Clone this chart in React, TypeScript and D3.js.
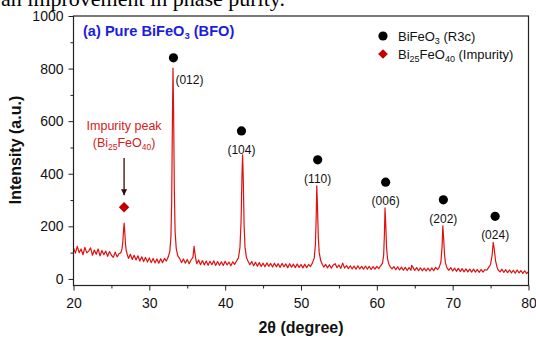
import React, { useRef, useEffect } from 'react';
import * as d3 from 'd3';

// XRD scan: [2θ, intensity]
const pattern: [number, number][] = [
  [20.0, 118], [20.25, 98], [20.5, 124], [20.75, 100], [21.0, 114], [21.25, 92], [21.5, 120], [21.75, 99],
  [22.0, 106], [22.25, 118], [22.5, 90], [22.75, 110], [23.0, 94], [23.25, 114], [23.5, 88], [23.75, 108],
  [24.0, 92], [24.25, 106], [24.5, 86], [24.75, 104], [25.0, 90], [25.25, 82], [25.5, 102], [25.75, 84],
  [26.0, 96], [26.25, 100], [26.4, 115], [26.5, 140], [26.6, 185], [26.68, 212], [26.76, 180], [26.85, 135],
  [26.95, 108], [27.1, 92], [27.25, 78], [27.5, 94], [27.75, 74], [28.0, 90], [28.25, 72], [28.5, 88],
  [28.75, 68], [29.0, 84], [29.25, 66], [29.5, 82], [29.75, 64], [30.0, 80], [30.25, 62], [30.5, 78],
  [30.75, 61], [31.0, 76], [31.25, 60], [31.5, 77], [31.75, 62], [32.0, 78], [32.25, 68], [32.5, 84],
  [32.7, 105], [32.85, 160], [32.95, 300], [33.05, 620], [33.12, 802], [33.2, 640], [33.3, 330], [33.4, 180],
  [33.55, 115], [33.75, 88], [34.0, 78], [34.25, 62], [34.5, 76], [34.75, 60], [35.0, 74], [35.25, 58],
  [35.5, 72], [35.75, 82], [35.9, 124], [36.0, 100], [36.15, 72], [36.25, 58], [36.5, 72], [36.75, 54],
  [37.0, 70], [37.25, 53], [37.5, 68], [37.75, 52], [38.0, 67], [38.25, 54], [38.5, 69], [38.75, 51],
  [39.0, 66], [39.25, 52], [39.5, 65], [39.75, 51], [40.0, 67], [40.25, 53], [40.5, 64], [40.75, 50],
  [41.0, 65], [41.25, 55], [41.5, 68], [41.75, 80], [41.95, 120], [42.1, 220], [42.22, 400], [42.3, 472],
  [42.38, 390], [42.5, 200], [42.62, 120], [42.8, 82], [43.0, 68], [43.25, 54], [43.5, 66], [43.75, 50],
  [44.0, 63], [44.25, 48], [44.5, 62], [44.75, 47], [45.0, 60], [45.25, 46], [45.5, 61], [45.75, 48],
  [46.0, 59], [46.25, 45], [46.5, 60], [46.75, 46], [47.0, 58], [47.25, 44], [47.5, 59], [47.75, 46],
  [48.0, 57], [48.25, 43], [48.5, 58], [48.75, 45], [49.0, 56], [49.25, 43], [49.5, 57], [49.75, 44],
  [50.0, 55], [50.25, 42], [50.5, 56], [50.75, 43], [51.0, 55], [51.25, 47], [51.5, 60], [51.75, 80],
  [51.9, 130], [52.0, 230], [52.08, 354], [52.16, 290], [52.28, 160], [52.4, 100], [52.6, 70], [52.8, 56],
  [53.0, 45], [53.25, 55], [53.5, 42], [53.75, 54], [54.0, 41], [54.25, 53], [54.5, 58], [54.75, 43],
  [55.0, 53], [55.25, 40], [55.5, 60], [55.75, 41], [56.0, 51], [56.25, 39], [56.5, 50], [56.75, 38],
  [57.0, 49], [57.25, 37], [57.5, 50], [57.75, 38], [58.0, 48], [58.25, 37], [58.5, 49], [58.75, 37],
  [59.0, 48], [59.25, 36], [59.5, 47], [59.75, 37], [60.0, 48], [60.25, 39], [60.5, 50], [60.75, 60],
  [60.9, 90], [61.0, 170], [61.08, 270], [61.16, 220], [61.28, 120], [61.42, 75], [61.6, 55], [61.8, 45],
  [62.0, 38], [62.25, 47], [62.5, 35], [62.75, 46], [63.0, 34], [63.25, 45], [63.5, 33], [63.75, 44],
  [64.0, 32], [64.25, 43], [64.5, 33], [64.6, 52], [64.75, 45], [65.0, 32], [65.25, 43], [65.5, 31],
  [65.75, 42], [66.0, 31], [66.25, 41], [66.5, 30], [66.75, 41], [67.0, 30], [67.25, 42], [67.5, 31],
  [67.75, 44], [68.0, 35], [68.25, 46], [68.45, 65], [68.6, 120], [68.7, 202], [68.8, 160], [68.92, 95],
  [69.05, 60], [69.25, 42], [69.5, 33], [69.75, 43], [70.0, 30], [70.25, 41], [70.5, 29], [70.75, 40],
  [71.0, 28], [71.25, 39], [71.5, 27], [71.75, 38], [72.0, 27], [72.25, 37], [72.5, 26], [72.75, 37],
  [73.0, 26], [73.25, 36], [73.5, 25], [73.75, 36], [74.0, 26], [74.25, 35], [74.5, 33], [74.75, 44],
  [75.0, 55], [75.2, 90], [75.35, 139], [75.5, 110], [75.65, 70], [75.85, 45], [76.0, 34], [76.25, 27],
  [76.5, 37], [76.75, 25], [77.0, 35], [77.25, 24], [77.5, 34], [77.75, 23], [78.0, 33], [78.25, 22],
  [78.5, 34], [78.75, 23], [79.0, 32], [79.25, 21], [79.5, 31], [79.75, 20], [80.0, 28],
];

// BiFeO3 reflections
const peakLabels = ['(012)', '(104)', '(110)', '(006)', '(202)', '(024)'];
const peakAngles = [33.18, 42.15, 52.2, 61.16, 68.77, 75.6];
const peakMarkers = [841, 563, 453, 368, 301, 238];

// Bi25FeO40 impurity
const impurityAngle = 26.67;
const impurityMarker = 273;
const impurityArrow = [460, 318];

const xTicks = [20, 30, 40, 50, 60, 70, 80];
const yTicks = [0, 200, 400, 600, 800, 1000];

export default function App() {
  const svgRef = useRef<SVGSVGElement>(null);

  useEffect(() => {
    const svg = d3.select(svgRef.current);
    svg.selectAll('*').remove();

    const w = 536;
    const h = 339;
    const margin = { top: 16, right: 7.5, bottom: 53.5, left: 73.5 };
    const innerWidth = w - margin.left - margin.right;
    const innerHeight = h - margin.top - margin.bottom;
    const font = 'Arial, "Liberation Sans", sans-serif';
    const trace = '#e01010';

    // leftover sentence from the page above the figure
    svg.append('text')
      .attr('x', 1)
      .attr('y', 6)
      .attr('font-family', '"Liberation Serif", "Times New Roman", serif')
      .attr('font-size', 22)
      .attr('fill', '#000')
      .text('an improvement in phase purity.');

    const g = svg.append('g').attr('transform', `translate(${margin.left}, ${margin.top})`);

    const xScale = d3.scaleLinear().domain([20, 80]).range([0, innerWidth]);
    const yScale = d3.scaleLinear().domain([-25, 1000]).range([innerHeight, 0]);

    // axes (major + minor ticks, pointing outward)
    const xAxis = g.append('g')
      .attr('transform', `translate(0, ${innerHeight})`)
      .call(d3.axisBottom(xScale).tickValues(xTicks).tickSize(5).tickSizeOuter(0).tickPadding(5));
    g.append('g')
      .attr('transform', `translate(0, ${innerHeight})`)
      .call(d3.axisBottom(xScale).tickValues(d3.range(25, 80, 10)).tickSize(3).tickSizeOuter(0).tickFormat(() => ''));

    const yAxis = g.append('g')
      .call(d3.axisLeft(yScale).tickValues(yTicks).tickSize(5).tickSizeOuter(0).tickPadding(5)
        .tickFormat(d3.format('d')));
    g.append('g')
      .call(d3.axisLeft(yScale).tickValues(d3.range(100, 1000, 200)).tickSize(3).tickSizeOuter(0).tickFormat(() => ''));

    [xAxis, yAxis].forEach(a => {
      a.selectAll('text').attr('font-size', 14).attr('font-family', font).attr('fill', '#111');
    });
    xAxis.selectAll('text').attr('dy', '0.9em');
    g.selectAll('.domain').remove();
    g.selectAll('.tick line').attr('stroke', '#222');

    // clip + trace
    svg.append('clipPath').attr('id', 'plot-clip')
      .append('rect').attr('width', innerWidth).attr('height', innerHeight);

    const line = d3.line<[number, number]>()
      .x(d => xScale(d[0]))
      .y(d => yScale(d[1]));

    g.append('path')
      .datum(pattern)
      .attr('clip-path', 'url(#plot-clip)')
      .attr('fill', 'none')
      .attr('stroke', trace)
      .attr('stroke-width', 1.2)
      .attr('stroke-linejoin', 'round')
      .attr('d', line);

    // frame
    g.append('rect')
      .attr('width', innerWidth)
      .attr('height', innerHeight)
      .attr('fill', 'none')
      .attr('stroke', '#222')
      .attr('stroke-width', 1.2);

    // peak markers
    peakAngles.forEach((a, i) => {
      const cx = xScale(a);
      const cy = yScale(peakMarkers[i]);
      g.append('circle').attr('cx', cx).attr('cy', cy).attr('r', 4.6).attr('fill', '#000');
      g.append('text')
        .attr('x', i === 0 ? cx + 2 : cx)
        .attr('y', i === 0 ? cy + 26 : cy + 23)
        .attr('text-anchor', i === 0 ? 'start' : 'middle')
        .attr('font-family', font)
        .attr('font-size', 12)
        .attr('fill', '#111')
        .text(peakLabels[i]);
    });

    // impurity annotation
    const ix = xScale(impurityAngle);
    const iy = yScale(impurityMarker);
    g.append('path')
      .attr('d', d3.symbol().type(d3.symbolDiamond2).size(70)())
      .attr('transform', `translate(${ix}, ${iy})`)
      .attr('fill', '#c00000');

    svg.append('defs').append('marker')
      .attr('id', 'arrow-head')
      .attr('viewBox', '0 0 10 10')
      .attr('refX', 10)
      .attr('refY', 5)
      .attr('markerWidth', 6)
      .attr('markerHeight', 6)
      .attr('markerUnits', 'userSpaceOnUse')
      .attr('orient', 'auto')
      .append('path').attr('d', 'M0,0 L10,5 L0,10 Z').attr('fill', '#3a0a0a');

    g.append('line')
      .attr('x1', ix).attr('x2', ix)
      .attr('y1', yScale(impurityArrow[0]))
      .attr('y2', yScale(impurityArrow[1]))
      .attr('stroke', '#3a0a0a')
      .attr('stroke-width', 1.3)
      .attr('marker-end', 'url(#arrow-head)');

    g.append('text')
      .attr('x', ix)
      .attr('y', yScale(impurityArrow[0]) - 28)
      .attr('text-anchor', 'middle')
      .attr('font-family', font)
      .attr('font-size', 12.5)
      .attr('fill', '#d42020')
      .text('Impurity peak');
    const formula = g.append('text')
      .attr('x', ix)
      .attr('y', yScale(impurityArrow[0]) - 11)
      .attr('text-anchor', 'middle')
      .attr('font-family', font)
      .attr('font-size', 12.5)
      .attr('fill', '#d42020');
    formula.append('tspan').text('(Bi');
    formula.append('tspan').attr('font-size', 8.5).attr('dy', 3).text('25');
    formula.append('tspan').attr('dy', -3).text('FeO');
    formula.append('tspan').attr('font-size', 8.5).attr('dy', 3).text('40');
    formula.append('tspan').attr('dy', -3).text(')');

    // panel title
    const title = svg.append('text')
      .attr('x', 83)
      .attr('y', 36)
      .attr('font-family', font)
      .attr('font-weight', 'bold')
      .attr('font-size', 14.6)
      .attr('fill', '#1c1ce0');
    title.append('tspan').text('(a) Pure BiFeO');
    title.append('tspan').attr('font-size', 9.5).attr('dy', 3).text('3');
    title.append('tspan').attr('dy', -3).text(' (BFO)');

    // legend
    const legend = svg.append('g').attr('transform', 'translate(383, 36)');
    legend.append('circle').attr('r', 4.6).attr('fill', '#000');
    legend.append('path')
      .attr('d', d3.symbol().type(d3.symbolDiamond2).size(60)())
      .attr('transform', 'translate(0, 18)')
      .attr('fill', '#c00000');

    const l1 = legend.append('text').attr('x', 15).attr('y', 4.5)
      .attr('font-family', font).attr('font-size', 13).attr('fill', '#111');
    l1.append('tspan').text('BiFeO');
    l1.append('tspan').attr('font-size', 9).attr('dy', 3).text('3');
    l1.append('tspan').attr('dy', -3).text(' (R3c)');

    const l2 = legend.append('text').attr('x', 15).attr('y', 22.5)
      .attr('font-family', font).attr('font-size', 13).attr('fill', '#111');
    l2.append('tspan').text('Bi');
    l2.append('tspan').attr('font-size', 9).attr('dy', 3).text('25');
    l2.append('tspan').attr('dy', -3).text('FeO');
    l2.append('tspan').attr('font-size', 9).attr('dy', 3).text('40');
    l2.append('tspan').attr('dy', -3).text(' (Impurity)');

    // axis titles
    svg.append('text')
      .attr('x', margin.left + innerWidth / 2)
      .attr('y', 333)
      .attr('text-anchor', 'middle')
      .attr('font-family', font)
      .attr('font-weight', 'bold')
      .attr('font-size', 16)
      .attr('fill', '#111')
      .text('2θ (degree)');

    svg.append('text')
      .attr('transform', `translate(21, ${margin.top + 134}) rotate(-90)`)
      .attr('text-anchor', 'middle')
      .attr('font-family', font)
      .attr('font-weight', 'bold')
      .attr('font-size', 16)
      .attr('fill', '#111')
      .text('Intensity (a.u.)');
  }, []);

  return (
    <div>
      <svg ref={svgRef} width={536} height={339}
        style={{ position: 'absolute', left: 0, top: 0, background: '#fff' }}></svg>
    </div>
  );
}
